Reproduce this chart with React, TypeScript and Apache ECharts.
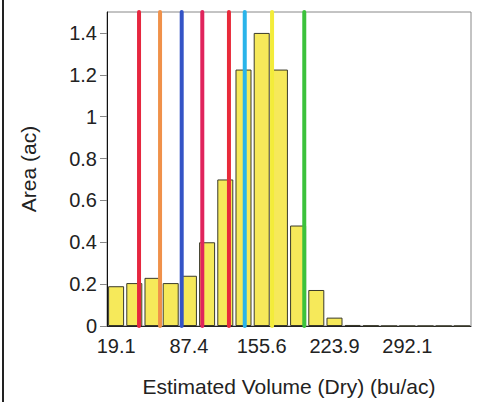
import React, { useEffect, useRef } from "react";
import * as echarts from "echarts";

const binLabels = [
  "19.1", "36.2", "53.2", "70.3", "87.4", "104.4", "121.5", "138.5", "155.6", "172.7",
  "189.7", "206.8", "223.9", "240.9", "258.0", "275.0", "292.1", "309.2", "326.2", "343.3",
];
const areaValues = [
  0.19, 0.205, 0.23, 0.205, 0.24, 0.4, 0.7, 1.225, 1.4, 1.225,
  0.48, 0.172, 0.04, 0.005, 0.002, 0, 0, 0, 0, 0,
];
const markerValues = [40.6, 60.3, 80.6, 99.9, 124.9, 139.7, 165.3, 195.5];
const markerColors = ["#e6273f", "#f0914a", "#3454c6", "#e0245c", "#e82a3a", "#2ab4ea", "#f3ec3a", "#3cc23c"];
const xRange = [10.57, 351.8];
const yTicks = { min: 0, max: 1.5, step: 0.2 };

const FONT = "'Liberation Sans', Arial, sans-serif";

export default function App() {
  const ref = useRef<HTMLDivElement>(null);
  useEffect(() => {
    if (!ref.current) return;
    const chart = echarts.init(ref.current, null, { renderer: "svg" });
    const lineSeries = markerValues.map((v, i) => ({
      type: "line",
      xAxisIndex: 1,
      yAxisIndex: 0,
      data: [[v, 0], [v, yTicks.max]],
      symbol: "none",
      clip: false,
      silent: true,
      z: 5,
      lineStyle: { color: markerColors[i], width: 4, cap: "round" },
    }));
    chart.setOption({
      animation: false,
      backgroundColor: "#ffffff",
      textStyle: { fontFamily: FONT },
      grid: {
        left: 107,
        top: 12,
        width: 364,
        height: 316,
        show: true,
        borderColor: "#888",
        borderWidth: 1,
        backgroundColor: "transparent",
      },
      graphic: [
        { type: "rect", shape: { x: 2, y: 0, width: 2, height: 402 }, style: { fill: "#222" } },
      ],
      xAxis: [
        {
          type: "category",
          data: binLabels,
          boundaryGap: true,
          name: "Estimated Volume (Dry) (bu/ac)",
          nameLocation: "middle",
          nameGap: 50,
          nameTextStyle: { fontSize: 21, color: "#222", fontFamily: FONT },
          axisLine: { lineStyle: { color: "#222", width: 1 } },
          axisTick: { alignWithLabel: true, interval: 1, length: 6, lineStyle: { color: "#333" } },
          axisLabel: { interval: 3, fontSize: 20, color: "#222", margin: 10, fontFamily: FONT },
          splitLine: { show: false },
        },
        {
          type: "value",
          min: xRange[0],
          max: xRange[1],
          show: false,
          splitLine: { show: false },
        },
      ],
      yAxis: {
        type: "value",
        min: yTicks.min,
        max: yTicks.max,
        interval: yTicks.step,
        name: "Area (ac)",
        nameLocation: "middle",
        nameGap: 68,
        nameTextStyle: { fontSize: 21, color: "#222", fontFamily: FONT },
        axisLine: { show: true, lineStyle: { color: "#111", width: 1 } },
        axisTick: { show: true, length: 7, lineStyle: { color: "#888" } },
        axisLabel: { fontSize: 20, color: "#222", margin: 10, showMaxLabel: false, fontFamily: FONT },
        splitLine: { show: false },
      },
      series: [
        {
          type: "bar",
          xAxisIndex: 0,
          data: areaValues,
          barCategoryGap: "12%",
          z: 2,
          itemStyle: { color: "#f6e95a", borderColor: "#3a3a2a", borderWidth: 1 },
        },
        ...lineSeries,
      ],
    });
    return () => chart.dispose();
  }, []);
  return (
    <div
      ref={ref}
      style={{ position: "fixed", left: 0, top: 0, width: 481, height: 402, background: "#fff" }}
    />
  );
}
